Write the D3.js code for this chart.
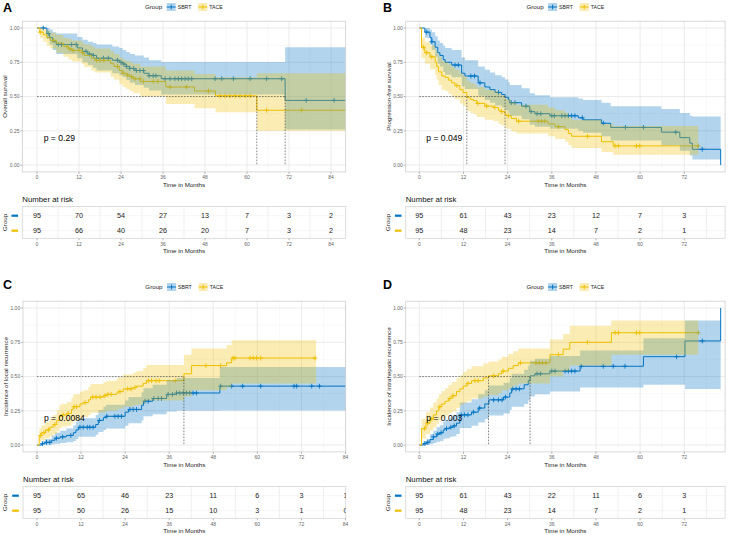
<!DOCTYPE html>
<html><head><meta charset="utf-8">
<script src="https://cdn.jsdelivr.net/npm/d3@7"></script>
<style>body{margin:0;background:#fff}svg{display:block}</style>
</head><body><script>
// ---------------- DATA ----------------
const groups = ["SBRT", "TACE"];
const xTicks = [0, 12, 24, 36, 48, 60, 72, 84];
const yTicks = [0, 0.25, 0.5, 0.75, 1];

// rows: [time, estimate, lower, upper]
const osSbrt = [[0,1,1,1],[2.8,0.96,0.92,1],[3.6,0.93,0.88,0.99],[4.5,0.90,0.84,0.97],[5.5,0.88,0.81,0.96],[11.5,0.855,0.78,0.935],[13,0.83,0.75,0.915],[14.5,0.81,0.73,0.90],[16,0.80,0.71,0.89],[17,0.78,0.69,0.88],[21.5,0.765,0.67,0.865],[23.5,0.75,0.655,0.855],[24.5,0.737,0.64,0.84],[25.5,0.72,0.62,0.825],[26.5,0.705,0.60,0.81],[28,0.69,0.585,0.80],[30.5,0.67,0.565,0.785],[32,0.652,0.545,0.765],[35.5,0.63,0.515,0.752],[70.9,0.472,0.26,0.86],[90,0.472,0.26,0.86]];
const osTace = [[0,1,1,1],[0.8,0.97,0.93,1],[1.8,0.95,0.90,0.99],[2.8,0.93,0.87,0.98],[3.8,0.91,0.85,0.965],[5.5,0.89,0.82,0.95],[7.5,0.866,0.79,0.93],[9,0.847,0.77,0.92],[10,0.837,0.755,0.91],[12.8,0.82,0.735,0.895],[13.5,0.80,0.715,0.88],[15.5,0.78,0.69,0.865],[16.5,0.764,0.675,0.85],[21,0.74,0.645,0.83],[22,0.72,0.625,0.81],[23.5,0.69,0.59,0.785],[24.5,0.67,0.57,0.77],[25.5,0.657,0.555,0.76],[26.5,0.645,0.54,0.75],[27.5,0.63,0.525,0.74],[29.5,0.61,0.50,0.72],[36.8,0.57,0.445,0.69],[45,0.54,0.415,0.665],[51,0.505,0.385,0.64],[62.8,0.40,0.25,0.67],[90,0.40,0.25,0.67]];
const osSbrtCensor = [1.8,3.2,6.1,7.0,9.9,11.2,14.0,15.0,16.1,17.0,19.0,20.4,23.0,24.0,24.8,25.6,26.5,27.6,28.4,29.4,30.4,32.0,33.2,34.0,36.6,38.0,39.4,40.4,41.3,42.3,43.2,44.2,50.9,52.8,56.1,60.9,65.6,69.9,76.9,84.9];
const osTaceCensor = [0.9,4.7,8.5,9.4,10.3,12.0,13.0,17.0,18.0,19.1,23.0,24.6,25.9,27.0,28.0,29.4,30.4,33.2,34.5,38.0,42.7,49.0,52.3,53.7,55.1,56.6,58.0,59.5,60.9,65.6,75.6];
const osRiskSbrt = [95,70,54,27,13,7,3,2];
const osRiskTace = [95,66,40,26,20,7,3,2];
const osP = "p = 0.29";

const pfsSbrt = [[0,1,1,1],[1.5,0.97,0.93,1],[2.9,0.93,0.88,0.99],[3.4,0.90,0.84,0.97],[4.3,0.86,0.79,0.94],[5,0.82,0.74,0.91],[5.6,0.80,0.72,0.89],[6.5,0.77,0.68,0.87],[7,0.75,0.66,0.855],[8.8,0.73,0.64,0.84],[11.5,0.67,0.575,0.785],[12.4,0.65,0.555,0.765],[16,0.60,0.505,0.72],[17.8,0.57,0.475,0.695],[19.2,0.55,0.455,0.675],[20.6,0.53,0.435,0.655],[22.4,0.515,0.42,0.64],[23.3,0.495,0.40,0.625],[24.2,0.475,0.38,0.605],[24.6,0.455,0.36,0.585],[27.8,0.43,0.335,0.56],[30,0.39,0.295,0.525],[31.4,0.375,0.28,0.51],[35.5,0.36,0.265,0.495],[43.2,0.345,0.25,0.485],[44.5,0.33,0.235,0.475],[49.5,0.305,0.21,0.455],[52,0.275,0.18,0.43],[65.8,0.24,0.145,0.41],[70.8,0.20,0.105,0.38],[73.5,0.16,0.07,0.36],[74.2,0.115,0.04,0.355],[81.9,0,0,0]];
const pfsTace = [[0,1,1,1],[0.6,0.86,0.78,0.93],[1.5,0.82,0.74,0.90],[2.9,0.79,0.70,0.875],[4.3,0.75,0.66,0.845],[4.7,0.72,0.625,0.82],[5.2,0.68,0.585,0.79],[6.1,0.65,0.55,0.76],[7,0.64,0.54,0.75],[7.9,0.62,0.52,0.735],[8.8,0.60,0.50,0.715],[9.7,0.58,0.48,0.695],[11,0.55,0.45,0.67],[11.9,0.53,0.43,0.65],[12.9,0.495,0.395,0.615],[13.8,0.48,0.38,0.60],[14.7,0.47,0.37,0.59],[15.6,0.45,0.35,0.57],[17.8,0.43,0.33,0.55],[20.1,0.42,0.32,0.54],[21.5,0.40,0.30,0.52],[22.2,0.39,0.29,0.51],[23.3,0.37,0.275,0.49],[23.7,0.36,0.265,0.48],[25,0.34,0.245,0.46],[26.4,0.32,0.23,0.44],[35,0.30,0.21,0.42],[36.9,0.28,0.19,0.40],[39.6,0.26,0.17,0.38],[40.5,0.23,0.145,0.35],[41.4,0.21,0.125,0.33],[49.5,0.17,0.095,0.30],[52.7,0.14,0.075,0.285],[75.8,0.14,0.075,0.285]];
const pfsSbrtCensor = [2,3.4,9.7,10.6,14,15,16.5,21.5,25,26,29,30.4,32,33,36,36.7,38.7,39.6,40.5,41.4,42.3,44.3,50,56,60.9,69.7,76.9];
const pfsTaceCensor = [1.1,2,3.4,10.2,15.9,18.3,20.5,22.4,24.2,27,32.3,33.2,34.1,37.8,45.7,53.2,54.1,59,59.9,75.8];
const pfsRiskSbrt = [95,61,43,23,12,7,3];
const pfsRiskTace = [95,48,23,14,7,2,1];
const pfsP = "p = 0.049";

const lrSbrt = [[0,0,0,0],[1.3,0.01,0,0.03],[2.2,0.02,0,0.045],[4,0.035,0.005,0.07],[4.9,0.05,0.01,0.09],[6.3,0.06,0.015,0.105],[8,0.07,0.02,0.12],[9.9,0.09,0.03,0.145],[10.6,0.11,0.045,0.17],[11.3,0.13,0.06,0.195],[16,0.15,0.075,0.22],[16.7,0.18,0.095,0.255],[18.1,0.20,0.11,0.28],[18.8,0.21,0.12,0.295],[24,0.24,0.14,0.325],[24.9,0.26,0.16,0.35],[28.5,0.29,0.18,0.385],[29,0.32,0.21,0.415],[31.5,0.34,0.225,0.44],[35.3,0.37,0.245,0.475],[38,0.38,0.25,0.49],[49.8,0.43,0.253,0.57],[90,0.43,0.253,0.57]];
const lrTace = [[0,0,0,0],[0.6,0.07,0.02,0.12],[1.2,0.09,0.035,0.145],[2.3,0.11,0.05,0.17],[3.5,0.13,0.065,0.195],[4.4,0.15,0.08,0.22],[5.4,0.18,0.10,0.255],[6.1,0.21,0.125,0.29],[6.7,0.22,0.135,0.30],[8.1,0.23,0.14,0.315],[9.4,0.26,0.165,0.345],[9.9,0.28,0.18,0.37],[11.7,0.30,0.195,0.39],[12.6,0.31,0.205,0.40],[14,0.33,0.22,0.425],[14.6,0.35,0.235,0.445],[18.1,0.36,0.24,0.46],[19,0.37,0.25,0.47],[21.7,0.38,0.255,0.48],[22.1,0.39,0.265,0.495],[23.5,0.41,0.28,0.515],[26.2,0.42,0.29,0.53],[27.1,0.43,0.295,0.54],[28.9,0.45,0.31,0.56],[29.8,0.47,0.325,0.585],[40,0.52,0.355,0.66],[42.1,0.58,0.40,0.705],[51.6,0.60,0.42,0.73],[53,0.635,0.45,0.765],[76,0.635,0.45,0.765]];
const lrSbrtCensor = [1.5,2.6,3.5,5.3,7,9.2,11.7,12.6,13.7,14.4,15.3,17,19,21.2,22.1,23,25.3,26.2,27.1,29.4,30.3,31.8,33,33.9,35.7,36.9,38,38.9,39.8,40.7,41.6,42.5,43.4,50,53,56,60.9,70,70.7,74.8,76.9];
const lrTaceCensor = [1,1.9,3.1,4.9,7.1,8.5,10.1,10.8,13.1,15.2,16.1,17.2,18.5,19.3,20.2,22.6,24.7,25.6,26.7,30.3,31.2,32.4,33.3,37.6,46,50,53.4,53.9,58,58.9,59.8,60.9,75.7];
const lrRiskSbrt = [95,65,46,23,11,6,3,1];
const lrRiskTace = [95,50,26,15,10,3,1,0];
const lrP = "p = 0.0084";

const ihrSbrt = [[0,0,0,0],[1.1,0.01,0,0.03],[2,0.02,0,0.045],[2.9,0.04,0.005,0.08],[3.8,0.06,0.015,0.105],[4.7,0.08,0.025,0.13],[5.6,0.09,0.03,0.145],[6.5,0.11,0.045,0.17],[7,0.12,0.05,0.185],[8.3,0.13,0.06,0.20],[9.2,0.14,0.065,0.215],[10.1,0.16,0.08,0.24],[11,0.22,0.125,0.31],[14.2,0.24,0.14,0.335],[16,0.27,0.165,0.37],[17.8,0.30,0.19,0.40],[18.9,0.33,0.215,0.435],[22.9,0.35,0.23,0.455],[24.6,0.38,0.255,0.49],[25.1,0.41,0.28,0.52],[28.5,0.44,0.30,0.55],[29.6,0.47,0.325,0.58],[30.1,0.505,0.355,0.615],[31.4,0.52,0.37,0.63],[35.5,0.54,0.39,0.65],[43.7,0.575,0.42,0.69],[60.9,0.645,0.44,0.78],[72.2,0.76,0.41,0.91],[81.9,1.0,0.41,0.91]];
const ihrTace = [[0,0,0,0],[0.6,0.12,0.05,0.19],[1.8,0.16,0.08,0.24],[2.9,0.19,0.105,0.275],[3.8,0.22,0.13,0.31],[4.7,0.25,0.155,0.34],[5.3,0.28,0.18,0.37],[6.1,0.30,0.195,0.395],[7,0.32,0.215,0.415],[7.9,0.34,0.23,0.44],[8.9,0.36,0.245,0.46],[10.1,0.39,0.27,0.49],[11,0.41,0.29,0.51],[11.9,0.43,0.305,0.535],[12.9,0.45,0.32,0.555],[14.2,0.47,0.34,0.575],[17.4,0.49,0.355,0.595],[18.8,0.505,0.365,0.61],[21.5,0.52,0.38,0.625],[22.4,0.54,0.40,0.645],[24.2,0.56,0.415,0.665],[25.5,0.58,0.435,0.685],[26.9,0.60,0.45,0.705],[35.5,0.66,0.50,0.77],[39.1,0.70,0.54,0.81],[40.9,0.75,0.58,0.87],[52.2,0.82,0.66,0.91],[75.8,0.82,0.66,0.91]];
const ihrSbrtCensor = [1.5,2.3,3.8,5,5.9,7.4,8.6,9.5,11.4,12.3,13.2,14.7,16.4,20.2,21.5,22.5,23.4,25.4,26.3,27.2,32,32.9,36,36.9,39.6,40.5,41.4,42.3,44,50,52.7,55.9,69.9,76.9];
const ihrTaceCensor = [1.4,2.3,3.4,5.6,8.3,9.2,13.2,15.1,16,20.2,22.8,27.5,31.7,32.6,33.5,34.4,37.8,45.7,53.2,54.1,59,59.9,75.8];
const ihrRiskSbrt = [95,61,43,22,11,6,3];
const ihrRiskTace = [95,48,23,14,7,2,1];
const ihrP = "p = 0.003";

// ---------------- STYLE / LAYOUT ----------------
const colors = {SBRT: "#0073C2", TACE: "#EFC000"};
const FONT = '"Liberation Sans", Arial, Helvetica, sans-serif';
const W = 730, H = 535;
const svg = d3.select("body").append("svg").attr("width", W).attr("height", H)
  .style("font-family", FONT);

const panels = [
  {letter:"A", lx:3, ly:11.7, oy:0, left:22.3, right:345.7, xDom:[-4.2,88.2], ylab:"Overall survival", mode:"surv",
   series:[osSbrt, osTace], censor:[osSbrtCensor, osTaceCensor], risk:[osRiskSbrt, osRiskTace], p:osP},
  {letter:"B", lx:383, ly:11.7, oy:0, left:405.7, right:725.1, xDom:[-3.7,83.1], ylab:"Progression-free survival", mode:"surv",
   series:[pfsSbrt, pfsTace], censor:[pfsSbrtCensor, pfsTaceCensor], risk:[pfsRiskSbrt, pfsRiskTace], p:pfsP},
  {letter:"C", lx:3, ly:288.5, oy:280, left:23.0, right:345.7, xDom:[-3.8,84.05], ylab:"Incidence of local recurrence", mode:"event",
   series:[lrSbrt, lrTace], censor:[lrSbrtCensor, lrTaceCensor], risk:[lrRiskSbrt, lrRiskTace], p:lrP},
  {letter:"D", lx:383, ly:288.5, oy:280, left:405.7, right:725.1, xDom:[-3.7,83.1], ylab:"Incidence of intrahepatic recurrence", mode:"event",
   series:[ihrSbrt, ihrTace], censor:[ihrSbrtCensor, ihrTaceCensor], risk:[ihrRiskSbrt, ihrRiskTace], p:ihrP}
];

const defs = svg.append("defs");

function valueAt(rows, t) {
  let v = rows[0][1];
  for (const r of rows) { if (r[0] <= t) v = r[1]; else break; }
  return v;
}
function medianOf(rows, mode) {
  for (const r of rows) {
    if (mode === "surv" ? r[1] < 0.5 : r[1] > 0.5) return r[0];
  }
  return null;
}

function drawPanel(cfg) {
  const g = svg.append("g");
  const oy = cfg.oy;
  const top = 21.2 + oy, bot = 171.9 + oy;
  const x = d3.scaleLinear().domain(cfg.xDom).range([cfg.left, cfg.right]);
  const y = d3.scaleLinear().domain([-0.05, 1.05]).range([bot, top]);
  const xt = xTicks.filter(t => t >= cfg.xDom[0] && t <= cfg.xDom[1] + 0.01);
  const xm = xTicks.map(t => t + 6).filter(t => t > cfg.xDom[0] && t < cfg.xDom[1]);
  const ym = [0.125, 0.375, 0.625, 0.875];

  // panel letter
  g.append("text").attr("x", cfg.lx).attr("y", cfg.ly).text(cfg.letter)
    .attr("font-size", 12.5).attr("font-weight", "bold").attr("fill", "#000");

  // legend
  const cx = (cfg.left + cfg.right) / 2 - 39;
  const ly = 7 + oy;
  g.append("text").attr("x", cx).attr("y", ly).attr("dy", "0.35em").text("Group")
    .attr("font-size", 6.2).attr("fill", "#222");
  const keyX = [cx + 21.7, cx + 53.3];
  groups.forEach((grp, i) => {
    const kx = keyX[i];
    g.append("rect").attr("x", kx).attr("y", ly - 4).attr("width", 9).attr("height", 8)
      .attr("fill", colors[grp]).attr("fill-opacity", 0.3);
    g.append("line").attr("x1", kx).attr("x2", kx + 9).attr("y1", ly).attr("y2", ly)
      .attr("stroke", colors[grp]).attr("stroke-width", 1);
    g.append("line").attr("x1", kx + 4.5).attr("x2", kx + 4.5).attr("y1", ly - 2.3).attr("y2", ly + 2.3)
      .attr("stroke", colors[grp]).attr("stroke-width", 1);
    g.append("text").attr("x", kx + 11).attr("y", ly).attr("dy", "0.35em").text(grp)
      .attr("font-size", 5.2).attr("fill", "#222");
  });

  // plot background + grid
  g.append("rect").attr("x", cfg.left).attr("y", top).attr("width", cfg.right - cfg.left)
    .attr("height", bot - top).attr("fill", "#fff");
  g.selectAll(null).data(xm).join("line").attr("x1", d => x(d)).attr("x2", d => x(d))
    .attr("y1", top).attr("y2", bot).attr("stroke", "#F2F2F2").attr("stroke-width", 0.5);
  g.selectAll(null).data(ym).join("line").attr("y1", d => y(d)).attr("y2", d => y(d))
    .attr("x1", cfg.left).attr("x2", cfg.right).attr("stroke", "#F2F2F2").attr("stroke-width", 0.5);
  g.selectAll(null).data(xt).join("line").attr("x1", d => x(d)).attr("x2", d => x(d))
    .attr("y1", top).attr("y2", bot).attr("stroke", "#E6E6E6").attr("stroke-width", 0.8);
  g.selectAll(null).data(yTicks).join("line").attr("y1", d => y(d)).attr("y2", d => y(d))
    .attr("x1", cfg.left).attr("x2", cfg.right).attr("stroke", "#E6E6E6").attr("stroke-width", 0.8);

  // clip
  const cid = "clip" + cfg.letter;
  defs.append("clipPath").attr("id", cid).append("rect").attr("x", cfg.left).attr("y", top)
    .attr("width", cfg.right - cfg.left).attr("height", bot - top);
  const pg = g.append("g").attr("clip-path", `url(#${cid})`);

  const line = d3.line().curve(d3.curveStepAfter).x(d => x(d[0])).y(d => y(d[1]));
  const area = d3.area().curve(d3.curveStepAfter).x(d => x(d[0])).y0(d => y(d[2])).y1(d => y(d[3]));

  // lines + censor marks
  groups.forEach((grp, i) => {
    const rows = cfg.series[i];
    pg.append("path").datum(rows).attr("d", line).attr("fill", "none")
      .attr("stroke", colors[grp]).attr("stroke-width", 1);
    pg.selectAll(null).data(cfg.censor[i]).join("path")
      .attr("d", t => {
        const px = x(t), py = y(valueAt(rows, t)), s = 2.4;
        return `M${px - s},${py}H${px + s}M${px},${py - s}V${py + s}`;
      })
      .attr("stroke", colors[grp]).attr("stroke-width", 0.9).attr("fill", "none");
  });
  // confidence ribbons on top
  groups.forEach((grp, i) => {
    pg.append("path").datum(cfg.series[i]).attr("d", area)
      .attr("fill", colors[grp]).attr("fill-opacity", 0.3).attr("stroke", "none");
  });

  // median lines
  const meds = cfg.series.map(rows => medianOf(rows, cfg.mode)).filter(m => m !== null);
  if (meds.length) {
    const mmax = d3.max(meds);
    pg.append("line").attr("x1", x(0)).attr("x2", x(mmax)).attr("y1", y(0.5)).attr("y2", y(0.5))
      .attr("stroke", "#333").attr("stroke-width", 0.6).attr("stroke-dasharray", "1.6,1.4");
    pg.selectAll(null).data(meds).join("line").attr("x1", d => x(d)).attr("x2", d => x(d))
      .attr("y1", y(0.5)).attr("y2", y(0)).attr("stroke", "#333").attr("stroke-width", 0.6)
      .attr("stroke-dasharray", "1.6,1.4");
  }

  // border
  g.append("rect").attr("x", cfg.left).attr("y", top).attr("width", cfg.right - cfg.left)
    .attr("height", bot - top).attr("fill", "none").attr("stroke", "#CFCFCF").attr("stroke-width", 0.8);

  // p-value
  g.append("text").attr("x", x(1.9)).attr("y", y(0.2)).attr("dy", "0.35em").text(cfg.p)
    .attr("font-size", 8.6).attr("fill", "#000");

  // axes
  g.selectAll(null).data(yTicks).join("line").attr("x1", cfg.left - 2).attr("x2", cfg.left)
    .attr("y1", d => y(d)).attr("y2", d => y(d)).attr("stroke", "#888").attr("stroke-width", 0.6);
  g.selectAll(null).data(yTicks).join("text").attr("x", cfg.left - 2.8).attr("y", d => y(d))
    .attr("dy", "0.35em").attr("text-anchor", "end").text(d3.format(".2f"))
    .attr("font-size", 5).attr("fill", "#666");
  g.selectAll(null).data(xt).join("line").attr("x1", d => x(d)).attr("x2", d => x(d))
    .attr("y1", bot).attr("y2", bot + 2).attr("stroke", "#888").attr("stroke-width", 0.6);
  g.selectAll(null).data(xt).join("text").attr("x", d => x(d)).attr("y", bot + 5.6)
    .attr("dy", "0.35em").attr("text-anchor", "middle").text(d => d)
    .attr("font-size", 5).attr("fill", "#666");
  g.append("text").attr("x", (cfg.left + cfg.right) / 2).attr("y", bot + 13.4).attr("dy", "0.35em")
    .attr("text-anchor", "middle").text("Time in Months").attr("font-size", 6.2).attr("fill", "#222");
  g.append("text").attr("transform", `translate(${cfg.left - 17.3},${(top + bot) / 2}) rotate(-90)`)
    .attr("dy", "0.35em").attr("text-anchor", "middle").text(cfg.ylab)
    .attr("font-size", 6.2).attr("fill", "#222");

  // ---------------- risk table ----------------
  const tTop = 206.5 + oy, tBot = 238.3 + oy;
  const ry = d3.scalePoint().domain(groups).range([215.7 + oy, 230.7 + oy]);
  g.append("text").attr("x", cfg.left).attr("y", 202 + oy).text("Number at risk")
    .attr("font-size", 7.8).attr("fill", "#111");
  g.append("rect").attr("x", cfg.left).attr("y", tTop).attr("width", cfg.right - cfg.left)
    .attr("height", tBot - tTop).attr("fill", "#fff");
  g.selectAll(null).data(xm).join("line").attr("x1", d => x(d)).attr("x2", d => x(d))
    .attr("y1", tTop).attr("y2", tBot).attr("stroke", "#E8E8E8").attr("stroke-width", 0.7);
  g.selectAll(null).data(groups).join("line").attr("y1", d => ry(d)).attr("y2", d => ry(d))
    .attr("x1", cfg.left).attr("x2", cfg.right).attr("stroke", "#F0F0F0").attr("stroke-width", 0.7);
  g.append("rect").attr("x", cfg.left).attr("y", tTop).attr("width", cfg.right - cfg.left)
    .attr("height", tBot - tTop).attr("fill", "none").attr("stroke", "#D5D5D5").attr("stroke-width", 0.8);
  const tcid = "tclip" + cfg.letter;
  defs.append("clipPath").attr("id", tcid).append("rect").attr("x", cfg.left).attr("y", tTop)
    .attr("width", cfg.right - cfg.left).attr("height", tBot - tTop);
  const tg = g.append("g").attr("clip-path", `url(#${tcid})`);
  groups.forEach((grp, i) => {
    const vals = cfg.risk[i].map((v, j) => ({t: xTicks[j], v}));
    tg.selectAll(null).data(vals).join("text").attr("x", d => x(d.t)).attr("y", ry(grp))
      .attr("dy", "0.35em").attr("text-anchor", "middle").text(d => d.v)
      .attr("font-size", 7.2).attr("fill", "#222");
    g.append("line").attr("x1", cfg.left - 10.8).attr("x2", cfg.left - 4.2)
      .attr("y1", ry(grp)).attr("y2", ry(grp)).attr("stroke", colors[grp]).attr("stroke-width", 2.2);
  });
  g.append("text").attr("transform", `translate(${cfg.left - 17.8},${(tTop + tBot) / 2}) rotate(-90)`)
    .attr("dy", "0.35em").attr("text-anchor", "middle").text("Group")
    .attr("font-size", 6.2).attr("fill", "#222");
  g.selectAll(null).data(xt).join("line").attr("x1", d => x(d)).attr("x2", d => x(d))
    .attr("y1", tBot).attr("y2", tBot + 2).attr("stroke", "#888").attr("stroke-width", 0.6);
  g.selectAll(null).data(xt).join("text").attr("x", d => x(d)).attr("y", 244 + oy)
    .attr("dy", "0.35em").attr("text-anchor", "middle").text(d => d)
    .attr("font-size", 5).attr("fill", "#666");
  g.append("text").attr("x", (cfg.left + cfg.right) / 2).attr("y", 251.2 + oy).attr("dy", "0.35em")
    .attr("text-anchor", "middle").text("Time in Months").attr("font-size", 6.2).attr("fill", "#222");
}

panels.forEach(drawPanel);
</script></body></html>
